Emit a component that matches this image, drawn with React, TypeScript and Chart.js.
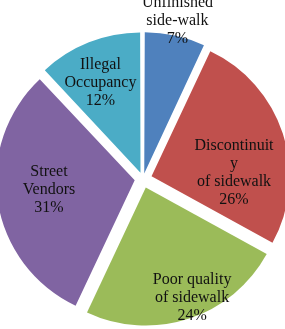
import React, { useEffect, useRef } from "react";
import { Chart, registerables } from "chart.js";

Chart.register(...registerables);

const categories = [
  "Unfinished side-walk",
  "Discontinuity of sidewalk",
  "Poor quality of sidewalk",
  "Street Vendors",
  "Illegal Occupancy",
];
const labelLines = [
  ["Unfinished", "side-walk"],
  ["Discontinuit", "y", "of sidewalk"],
  ["Poor quality", "of sidewalk"],
  ["Street", "Vendors"],
  ["Illegal", "Occupancy"],
];
const values = [7, 26, 24, 31, 12];
const colors = ["#4F81BD", "#C0504D", "#9BBB59", "#8064A2", "#4BACC6"];
// label placement: fraction of radius and angular shift (degrees)
const labelRadius = [1.172, 0.661, 0.933, 0.686, 0.761];
const labelShift = [-0.3, 13.9, -4.4, 2.3, -2.3];
const explode = 9; // px each slice is pulled out

const total = values.reduce((a, b) => a + b, 0);

const labelPlugin = {
  id: "pieLabels",
  afterDatasetsDraw(chart: any) {
    const ctx = chart.ctx;
    const meta = chart.getDatasetMeta(0);
    ctx.save();
    ctx.font = "16px 'Liberation Serif'";
    ctx.fillStyle = "#111";
    ctx.textAlign = "center";
    ctx.textBaseline = "middle";
    const lh = 18;
    meta.data.forEach((arc: any, i: number) => {
      const p = arc.getProps(["x", "y", "startAngle", "endAngle", "outerRadius"], true);
      const a = (p.startAngle + p.endAngle) / 2 + (labelShift[i] * Math.PI) / 180;
      const d = p.outerRadius * labelRadius[i];
      const cx = p.x + Math.cos(a) * d;
      const cy = p.y + Math.sin(a) * d;
      const lines = [...labelLines[i], Math.round((values[i] / total) * 100) + "%"];
      const top = cy - ((lines.length - 1) * lh) / 2;
      lines.forEach((t, k) => ctx.fillText(t, cx, top + k * lh));
    });
    ctx.restore();
  },
};

export default function App() {
  const ref = useRef<HTMLCanvasElement>(null);
  useEffect(() => {
    document.body.style.margin = "0";
    const chart = new Chart(ref.current!, {
      type: "pie",
      data: {
        labels: categories,
        datasets: [
          {
            data: values,
            backgroundColor: colors,
            borderWidth: 0,
            offset: (c: any) => {
              const circ = (values[c.dataIndex] / total) * Math.PI * 2;
              const fix = 1 - Math.sin(Math.min(Math.PI, circ));
              return (explode * 4) / (1 + fix);
            },
            radius: 138,
            clip: false,
          } as any,
        ],
      },
      options: {
        animation: false,
        responsive: false,
        devicePixelRatio: 1,
        layout: { padding: { left: 6, right: 10, top: 32, bottom: 3 } },
        plugins: { legend: { display: false }, tooltip: { enabled: false } },
      },
      plugins: [labelPlugin],
    });
    return () => chart.destroy();
  }, []);
  return (
    <div style={{ position: "fixed", left: -10, top: 0, width: 310, height: 329, overflow: "visible" }}>
      <canvas ref={ref} width={310} height={329} />
    </div>
  );
}
